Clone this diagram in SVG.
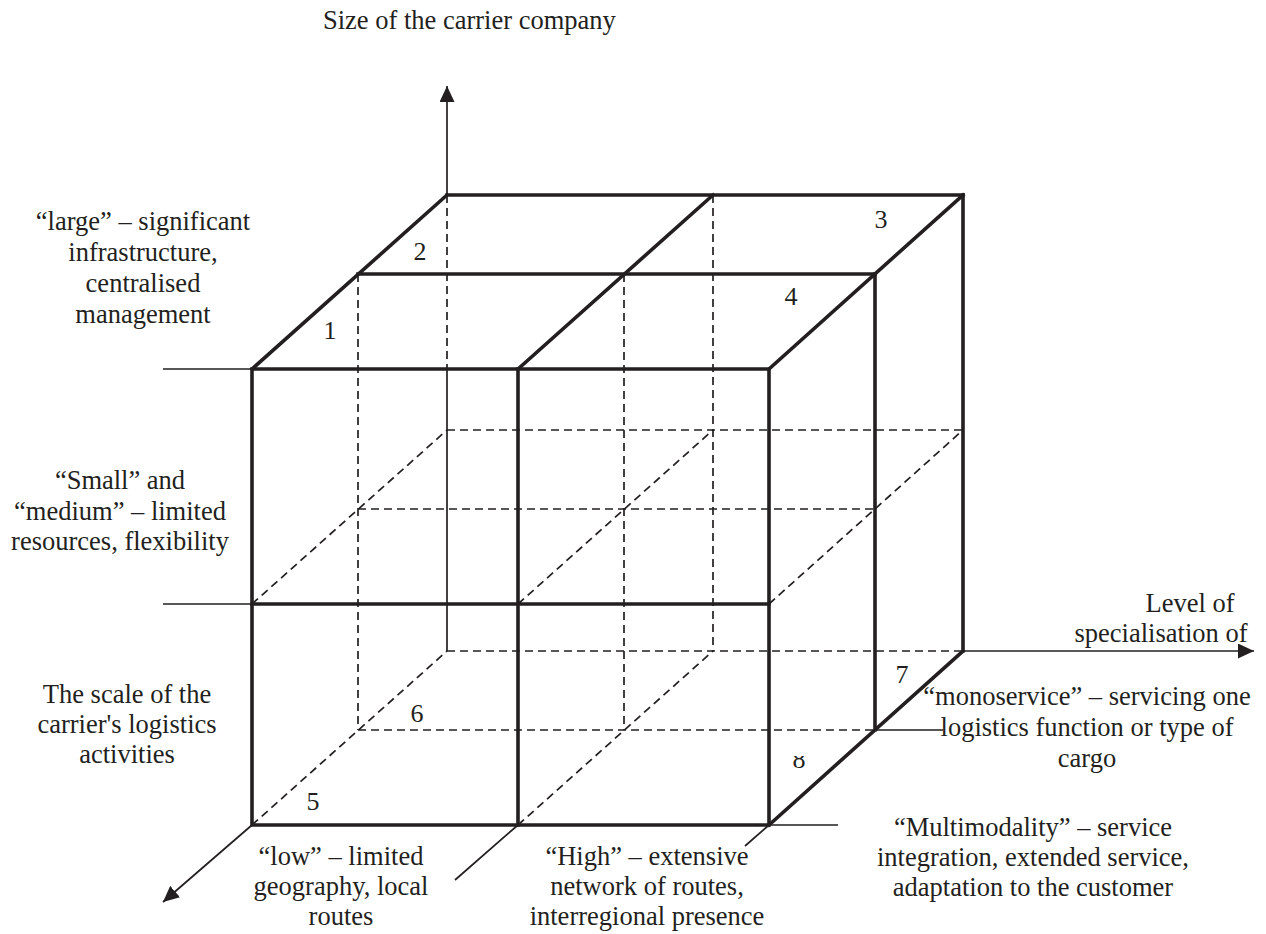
<svg xmlns="http://www.w3.org/2000/svg" width="1266" height="934" viewBox="0 0 1266 934">
<style>
.thick{fill:none;stroke:#231f20;stroke-width:3.6;stroke-linejoin:miter;stroke-linecap:square}
.thin{fill:none;stroke:#231f20;stroke-width:1.7}
.dash{fill:none;stroke:#231f20;stroke-width:1.7;stroke-dasharray:8 5}
text{font-family:"Liberation Serif","Times New Roman",serif;font-size:26.5px;fill:#231f20}
.c{text-anchor:middle}
.num{font-size:26px;text-anchor:middle}
</style>
<defs>
<marker id="arrow" viewBox="0 0 16 15" refX="16" refY="7.5" markerWidth="16" markerHeight="15" markerUnits="userSpaceOnUse" orient="auto">
<path d="M0,0 L16,7.5 L0,15 Z" fill="#231f20"/>
</marker>
<clipPath id="clip8"><rect x="780" y="756" width="40" height="20"/></clipPath>
</defs>

<g id="connectors">
<g id="hidden-edges">
<path class="dash" d="M358,274 V730 M624,274 V730 M713,195 V651 M447,195 V369"/>
<path class="dash" d="M447,430 H963 M358,509 H875 M447,651 H963 M358,730 H875"/>
<path class="dash" d="M252,604 L447,430 M518,604 L713,430 M769,604 L963,430 M252,825 L447,651 M518,825 L713,651"/>
</g>
<g id="axes">
<path class="thin" d="M447,651 V369"/>
<path class="thin" d="M447,195 V86" marker-end="url(#arrow)"/>
<path class="thin" d="M963,651 H1254" marker-end="url(#arrow)"/>
<path class="thin" d="M252,825 L163,902" marker-end="url(#arrow)"/>
<path class="thin" d="M163,369 H252 M163,604 H252 M518,825 L455,880 M769,825 L745,846 M769,825 H838 M875,730 H943"/>
</g>
</g>

<g id="cube">
<path class="thick" d="M252,369 H769 V825 H252 Z"/>
<path class="thick" d="M518,369 V825 M252,604 H769"/>
<path class="thick" d="M358,274 H875 M447,195 H963"/>
<path class="thick" d="M252,369 L447,195 M518,369 L713,195 M769,369 L963,195"/>
<path class="thick" d="M875,274 V730 M963,195 V651 M769,825 L963,651"/>
</g>

<g id="cell-numbers">
<text class="num" x="330" y="339">1</text>
<text class="num" x="420" y="260">2</text>
<text class="num" x="881" y="228">3</text>
<text class="num" x="791" y="305">4</text>
<text class="num" x="313" y="810">5</text>
<text class="num" x="417" y="722">6</text>
<text class="num" x="902" y="683">7</text>
<text class="num" x="799" y="768" clip-path="url(#clip8)">8</text>
</g>

<g id="axis-size">
<text x="323" y="29">Size of the carrier company</text>
</g>
<g id="label-large">
<text class="c" x="143" y="230">“large” – significant</text>
<text class="c" x="143" y="261">infrastructure,</text>
<text class="c" x="143" y="292">centralised</text>
<text class="c" x="143" y="323">management</text>
</g>
<g id="label-small">
<text class="c" x="120" y="489">“Small” and</text>
<text class="c" x="120" y="520">“medium” – limited</text>
<text class="c" x="120" y="550">resources, flexibility</text>
</g>
<g id="axis-scale">
<text class="c" x="127" y="703">The scale of the</text>
<text class="c" x="127" y="733">carrier's logistics</text>
<text class="c" x="127" y="763">activities</text>
</g>
<g id="label-low">
<text class="c" x="341" y="865">“low” – limited</text>
<text class="c" x="341" y="895">geography, local</text>
<text class="c" x="341" y="925">routes</text>
</g>
<g id="label-high">
<text class="c" x="647" y="865">“High” – extensive</text>
<text class="c" x="647" y="895">network of routes,</text>
<text class="c" x="647" y="925">interregional presence</text>
</g>
<g id="axis-specialisation">
<text class="c" x="1190" y="612">Level of</text>
<text class="c" x="1161" y="642">specialisation of</text>
</g>
<g id="label-monoservice">
<text class="c" x="1087" y="705">“monoservice” – servicing one</text>
<text class="c" x="1087" y="736">logistics function or type of</text>
<text class="c" x="1087" y="767">cargo</text>
</g>
<g id="label-multimodality">
<text class="c" x="1033" y="836">“Multimodality” – service</text>
<text class="c" x="1033" y="866">integration, extended service,</text>
<text class="c" x="1033" y="896">adaptation to the customer</text>
</g>
</svg>
